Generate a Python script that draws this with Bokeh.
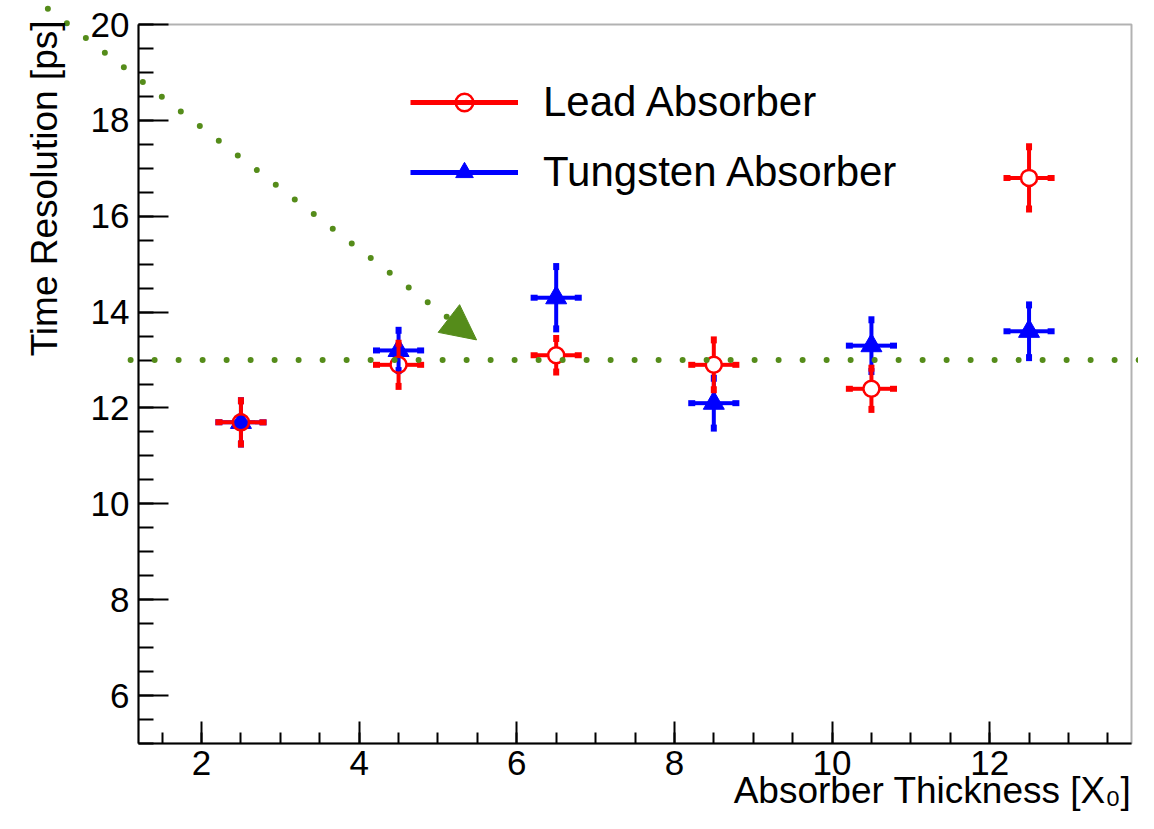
import math
from bokeh.plotting import figure
from bokeh.models import (Range1d, Arrow, NormalHead, Label, Legend, LegendItem,
                          SingleIntervalTicker, BoxAnnotation)
from bokeh.embed import file_html
from bokeh.resources import INLINE

# ---------------- data ----------------
thickness = [2.5, 4.5, 6.5, 8.5, 10.5, 12.5]
thickness_err = [0.28, 0.28, 0.28, 0.28, 0.28, 0.28]
lead_res = [11.7, 12.9, 13.1, 12.9, 12.4, 16.8]
lead_err = [0.45, 0.45, 0.35, 0.52, 0.43, 0.65]
tung_res = [11.7, 13.2, 14.3, 12.1, 13.3, 13.6]
tung_err = [0.45, 0.42, 0.65, 0.52, 0.54, 0.55]
ref_level = 13.0
arrow_start = (0.05, 20.33)
arrow_end = (5.49, 13.42)
hline_x = (1.1, 13.9)

# axis (ROOT frame) ranges
x0, x1 = 1.2, 13.8
y0, y1 = 5.0, 20.0

FONT = "Liberation Sans"
GREEN = "#558c1a"

# canvas & ROOT-frame placement (pixels)
W, H = 1138, 813
FL, FR, FT, FB = 138, 1131, 24, 743
ppx = (FR - FL) / (x1 - x0)
ppy = (FB - FT) / (y1 - y0)
xr = Range1d(x0 - FL / ppx, x0 + (W - FL) / ppx)
yr = Range1d(y0 - (H - FB) / ppy, y1 + FT / ppy)

p = figure(width=W, height=H, x_range=xr, y_range=yr, title=None,
           output_backend="svg", toolbar_location=None,
           min_border=0, min_border_left=0, min_border_right=0,
           min_border_top=0, min_border_bottom=0)
p.grid.visible = False
p.outline_line_color = None
p.background_fill_color = "white"
p.border_fill_color = "white"

xa, ya = p.xaxis[0], p.yaxis[0]
xa.fixed_location = y0
ya.fixed_location = x0
xa.bounds = (x0, x1)
ya.bounds = (y0, y1)
for ax, tin, tmin in ((xa, 22, 11), (ya, 30, 15)):
    ax.ticker = SingleIntervalTicker(interval=2, num_minor_ticks=4)
    ax.major_tick_in = tin
    ax.major_tick_out = 0
    ax.minor_tick_in = tmin
    ax.minor_tick_out = 0
    ax.major_tick_line_width = 2
    ax.minor_tick_line_width = 2
    ax.axis_line_width = 2
    ax.major_label_text_font = FONT
    ax.major_label_text_font_size = "35px"
    ax.major_label_text_color = "black"
xa.major_label_standoff = 7
ya.major_label_standoff = 9

# ROOT frame box (top/right edges)
p.add_layout(BoxAnnotation(left=x0, right=x1, bottom=y0, top=y1, fill_alpha=0,
                           line_color="black", line_width=2, level="underlay"))

gap = 8  # open-circle radius in px: error bars stop at marker edge
gx = gap / ppx
gy = gap / ppy


def bars(xs, ys, xe, ye, color, with_gap):
    gxx = gx if with_gap else 0
    gyy = gy if with_gap else 0
    vx, vy0, vy1, hx0, hx1, hy = [], [], [], [], [], []
    for x, y, ex, ey in zip(xs, ys, xe, ye):
        vx += [x, x]
        vy0 += [y + gyy, y - gyy]
        vy1 += [y + ey, y - ey]
        hy += [y, y]
        hx0 += [x + gxx, x - gxx]
        hx1 += [x + ex, x - ex]
    p.segment(x0=vx, y0=vy0, x1=vx, y1=vy1, line_color=color, line_width=4)
    p.segment(x0=hx0, y0=hy, x1=hx1, y1=hy, line_color=color, line_width=4)
    p.rect(x=vx, y=vy1, width=6, height=7, width_units="screen", height_units="screen",
           fill_color=color, line_color=None)
    p.rect(x=hx1, y=hy, width=7, height=6, width_units="screen", height_units="screen",
           fill_color=color, line_color=None)


# Tungsten first, Lead on top
bars(thickness, tung_res, thickness_err, tung_err, "blue", False)
tri = p.scatter(thickness, tung_res, marker="triangle", size=21, fill_color="blue",
                line_color="blue", line_width=1)
bars(thickness, lead_res, thickness_err, lead_err, "red", True)
circ = p.scatter(thickness, lead_res, marker="circle", size=16, fill_color=None,
                 line_color="red", line_width=2.5)

nan = float("nan")
lead_line = p.line(x=[nan, nan], y=[nan, nan], line_color="red", line_width=5)
tung_line = p.line(x=[nan, nan], y=[nan, nan], line_color="blue", line_width=5)

legend = Legend(items=[LegendItem(label="Lead Absorber", renderers=[lead_line, circ]),
                       LegendItem(label="Tungsten Absorber", renderers=[tung_line, tri])],
                location=(410, 617), orientation="vertical")
legend.label_text_font = FONT
legend.label_text_font_size = "42px"
legend.label_text_color = "black"
legend.glyph_width = 108
legend.glyph_height = 44
legend.label_standoff = 25
legend.spacing = 22
legend.padding = 0
legend.margin = 0
legend.border_line_alpha = 0
legend.background_fill_alpha = 0
p.add_layout(legend)

# dotted reference line and dotted arrow
p.add_layout(Arrow(end=None, x_start=hline_x[0], y_start=ref_level, x_end=hline_x[1], y_end=ref_level,
                   line_color=GREEN, line_width=6, line_dash="0 24", line_cap="round"))
p.add_layout(Arrow(end=NormalHead(size=35, fill_color=GREEN, line_color=GREEN, line_width=1),
                   x_start=arrow_start[0], y_start=arrow_start[1],
                   x_end=arrow_end[0], y_end=arrow_end[1],
                   line_color=GREEN, line_width=6, line_dash="0 24", line_cap="round"))

# axis titles (ROOT style, right aligned)
p.add_layout(Label(x=x1, y=y0, y_offset=-47, text="Absorber Thickness [X\u2080]",
                   text_align="right", text_baseline="alphabetic",
                   text_font=FONT, text_font_size="37px", text_color="black"))
p.add_layout(Label(x=x0, y=y1, x_offset=-94, y_offset=4, angle=math.pi / 2,
                   text="Time Resolution [ps]",
                   text_align="right", text_baseline="alphabetic",
                   text_font=FONT, text_font_size="37px", text_color="black"))

open("out.html", "w").write(file_html(p, INLINE))
